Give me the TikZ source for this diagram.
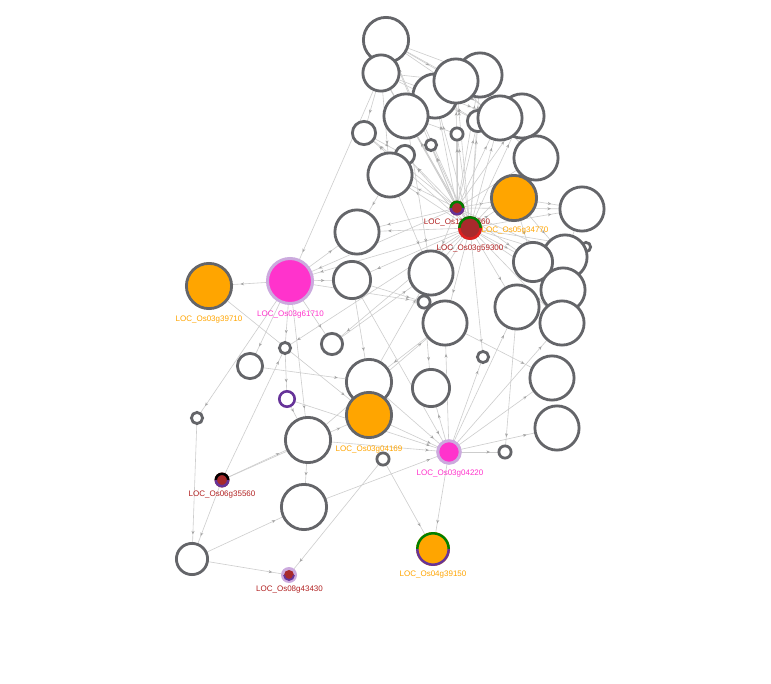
\documentclass[tikz,border=0pt]{standalone}
\usepackage{fontspec}
\setmainfont{Liberation Sans}
\usetikzlibrary{arrows.meta,decorations.markings}
\pgfdeclarelayer{bg}
\pgfsetlayers{bg,main}
\definecolor{nodegray}{RGB}{100,101,105}
\definecolor{edgegray}{RGB}{205,205,205}
\definecolor{arrowgray}{RGB}{165,165,165}
\definecolor{orangefill}{RGB}{255,165,0}
\definecolor{pinkfill}{RGB}{255,51,204}
\definecolor{lilac}{RGB}{204,170,222}
\definecolor{purp}{RGB}{102,51,153}
\definecolor{grn}{RGB}{0,128,0}
\definecolor{brick}{RGB}{168,42,44}
\definecolor{redring}{RGB}{222,32,32}
\definecolor{labred}{RGB}{178,34,34}
\begin{document}
\begin{tikzpicture}[x=1pt,y=-1pt,
  gn/.style={circle,draw=nodegray,line width=2.8pt,fill=white,inner sep=0pt,outer sep=0pt,minimum size={(2*#1-2.8)*1pt}},
  gno/.style={gn=#1,fill=orangefill},
  pkn/.style={circle,draw=lilac,line width=3pt,fill=pinkfill,inner sep=0pt,outer sep=0pt,minimum size={(2*#1-3)*1pt}},
  dotn/.style={circle,inner sep=0pt,outer sep=0pt,minimum size={2*#1*1pt}},
  ringline/.style={line width=2.5pt},
  lab/.style={font=\fontsize{8}{9}\selectfont,inner sep=0pt,anchor=center},
  edgeline/.style={draw=edgegray,line width=0.6pt,postaction={decorate},
    decoration={markings,mark=at position -9pt with {\arrow[arrowgray]{Stealth[length=3.5pt,width=3pt]}}}}
]
\useasboundingbox (0,0) rectangle (771,684);
\begin{pgfonlayer}{bg}
\fill[white] (0,0) rectangle (771,684);
\end{pgfonlayer}

% top cluster
\node[gn=24]   (n1)  at (386,40)  {};
\node[gn=19.5] (n2)  at (381,73)  {};
\node[gn=23.5] (n3)  at (435,96)  {};
\node[gn=23.5] (n5)  at (480,75)  {};
\node[gn=23.5] (n14) at (522,116) {};
\node[gn=12]   (n12) at (478,121) {};
\node[gn=23.5] (n4)  at (456,81)  {};
\node[gn=23.5] (n6)  at (406,116) {};
\node[gn=13]   (n7)  at (364,133) {};
\node[gn=7]    (n10) at (431,145) {};
\node[gn=7.5]  (n11) at (457,134) {};
\node[gn=11]   (n8)  at (405,155) {};
\node[gn=23.5] (n9)  at (390,175) {};
\node[gn=23.5] (n13) at (500,118) {};
\node[gn=23.5] (n15) at (536,158) {};
\node[gno=24]  (o1)  at (514,198) {};
% right cluster
\node[gn=23.5] (n17) at (582,209) {};
\node[gn=6]    (n18) at (586,247) {};
\node[gn=23.5] (n19) at (565,257) {};
\node[gn=21]   (n20) at (533,262) {};
\node[gn=23.5] (n21) at (563,290) {};
\node[gn=23.5] (n22) at (562,323) {};
\node[gn=23.5] (n23) at (517,307) {};
% middle
\node[gn=7.5]  (n25) at (424,302) {};
\node[gn=23.5] (n24) at (431,273) {};
\node[gn=23.5] (n26) at (445,323) {};
\node[gn=23.5] (n27) at (357,232) {};
\node[gn=20]   (n28) at (352,280) {};
\node[pkn=24]  (pk1) at (290,281) {};
\node[gno=24]  (o2)  at (209,286) {};
\node[gn=12]   (n31) at (332,344) {};
\node[gn=7]    (n32) at (285,348) {};
\node[gn=14]   (n33) at (250,366) {};
\node[circle,draw=purp,line width=2.6pt,fill=white,inner sep=0pt,outer sep=0pt,minimum size=15.4pt] (pr1) at (287,399) {};
\node[gn=7]    (n35) at (197,418) {};
\node[gn=24]   (n36) at (369,382) {};
\node[gno=24]  (o3)  at (369,415) {};
\node[gn=20]   (n38) at (431,388) {};
\node[gn=7]    (n39) at (483,357) {};
\node[gn=23.5] (n40) at (552,378) {};
\node[gn=23.5] (n41) at (557,428) {};
\node[gn=24]   (n42) at (308,440) {};
\node[pkn=12.8] (pk2) at (449,452) {};
\node[gn=7.5]  (n44) at (505,452) {};
\node[gn=7.5]  (n45) at (383,459) {};
\node[gn=24]   (n47) at (304,507) {};
\node[gn=17]   (n48) at (192,559) {};

% multi-coloured small nodes
\node[dotn=7.5,fill=brick] (m1) at (222,480) {};
\draw[black,ringline] ([shift={(222,480)}]180:6.2) arc[start angle=180,end angle=360,radius=6.2];
\draw[purp,ringline] ([shift={(222,480)}]0:6.2) arc[start angle=0,end angle=180,radius=6.2];

\node[dotn=8,fill=lilac] (m2) at (289,575) {};
\fill[brick] (289,575) circle[radius=5];
\draw[purp,line width=1.8pt] ([shift={(289,575)}]0:5) arc[start angle=0,end angle=180,radius=5];

\node[dotn=17,fill=orangefill] (o4) at (433,549) {};
\draw[grn,ringline] ([shift={(433,549)}]180:15.7) arc[start angle=180,end angle=360,radius=15.7];
\draw[purp,ringline] ([shift={(433,549)}]0:15.7) arc[start angle=0,end angle=180,radius=15.7];

\node[dotn=7.5,fill=brick] (h1) at (457,208) {};
\draw[grn,ringline] ([shift={(457,208)}]180:6.2) arc[start angle=180,end angle=360,radius=6.2];
\draw[purp,ringline] ([shift={(457,208)}]0:6.2) arc[start angle=0,end angle=180,radius=6.2];
\node[lab,text=labred] (lh1) at (457,223) {LOC\_Os11g38360};
\node[lab,text=orangefill] (lo1) at (515,231) {LOC\_Os05g34770};

\node[dotn=12,fill=brick] (h2) at (470,228) {};
\draw[grn,ringline] ([shift={(470,228)}]180:10.7) arc[start angle=180,end angle=360,radius=10.7];
\draw[redring,ringline] ([shift={(470,228)}]0:10.7) arc[start angle=0,end angle=180,radius=10.7];
\node[lab,text=labred] (lh2) at (470,248.5) {LOC\_Os03g59300};

% labels
\node[lab,text=orangefill] (lo2) at (209,319.5) {LOC\_Os03g39710};
\node[lab,text=pinkfill]   (lpk1) at (290.5,314.5) {LOC\_Os03g61710};
\node[lab,text=orangefill] (lo3) at (369,449.5) {LOC\_Os03g04169};
\node[lab,text=pinkfill]   (lpk2) at (450,473.5) {LOC\_Os03g04220};
\node[lab,text=labred]     (lm1) at (222,494.5) {LOC\_Os06g35560};
\node[lab,text=labred]     (lm2) at (289.5,589.5) {LOC\_Os08g43430};
\node[lab,text=orangefill] (lo4) at (433,574.5) {LOC\_Os04g39150};

% edges
\begin{pgfonlayer}{bg}
\foreach \a/\b in {h1/n1,h1/n2,h1/n3,h1/n4,h1/n5,h1/n6,h1/n7,h1/n8,h1/n9,h1/n10,h1/n11,h1/n12,h1/n13,h1/n14,h1/n15,h1/o1,h1/n17,h1/n19,h1/n27,h1/pk1,h1/n24,h1/n20,
  h2/n1,h2/n2,h2/n3,h2/n4,h2/n5,h2/n6,h2/n7,h2/n8,h2/n9,h2/n10,h2/n11,h2/n12,h2/n13,h2/n14,h2/n15,h2/o1,h2/n17,h2/n18,h2/n19,h2/n20,h2/n21,h2/n22,h2/n23,h2/n24,h2/n25,h2/n26,h2/n27,h2/n28,h2/pk1,h2/n39,h2/n32,h2/n31,
  n1/n4,n1/n5,n1/n13,n1/n14,n2/n4,n2/n13,n2/n12,n2/n9,n2/n7,n2/n6,n7/n8,n6/n11,n3/n12,n5/n15,n4/n15,
  o1/n17,o1/n19,o1/n20,n17/n19,
  n6/n24,n9/n24,n9/n27,
  pk1/o2,pk1/n27,pk1/n28,pk1/n31,pk1/n32,pk1/n33,pk1/n42,pk1/n35,n2/pk1,pk1/n25,
  o2/o3,
  n28/n36,n28/n25,n28/pk2,
  n31/n24,
  n32/pr1,m1/n32,
  n33/n36,
  pr1/n42,pr1/pk2,
  n36/n24,n36/pk2,n26/n36,
  pk2/n38,n25/n38,
  pk2/n39,
  n26/n40,pk2/n26,
  n23/n44,pk2/n23,pk2/n22,pk2/n41,pk2/n40,pk2/n44,n42/pk2,o3/pk2,n47/pk2,pk2/o4,n45/o4,n45/m2,
  n42/n47,m1/n42,m1/o3,m1/n48,n35/n48,n48/n47,n48/m2,n42/n26}
  \draw[edgeline] (\a) -- (\b);
\end{pgfonlayer}
\end{tikzpicture}
\end{document}
